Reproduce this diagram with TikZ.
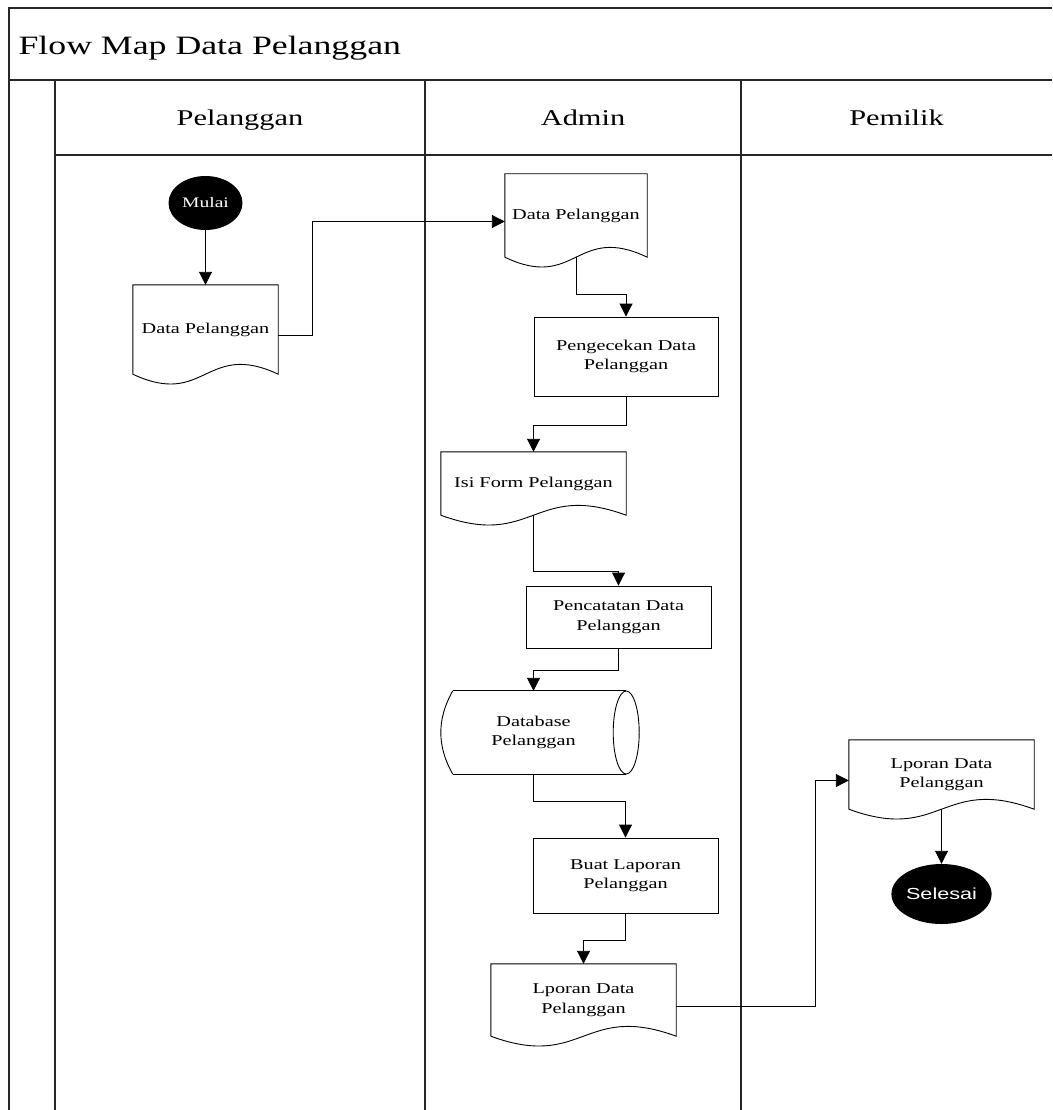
\documentclass[tikz,border=0pt]{standalone}
\usepackage{fontspec}
\setmainfont{Liberation Serif}[FakeStretch=1.35]
\newfontfamily\arialfont{Liberation Sans}[FakeStretch=1.35]
\usetikzlibrary{arrows.meta,shapes.geometric,calc}

% wave depth of the document symbols (control point offset)
\newcommand\wavek{34}

% document symbol: outline drawn around a rectangular node, wavy bottom edge
\newcommand\docshape[1]{%
  \draw[shapeline] (#1.south west) -- (#1.north west) -- (#1.north east) -- (#1.south east)
    .. controls ($(#1.south)+(0,-\wavek)$) and ($(#1.south)+(0,\wavek)$) .. (#1.south west);
  \coordinate (#1-b) at (#1.south);
  \coordinate (#1-l) at ($(#1.west)+(0,6)$);
  \coordinate (#1-r) at ($(#1.east)+(0,6)$);
}

% stored-data symbol: horizontal cylinder
\newcommand\dbshape[1]{%
  \draw[shapeline] ($(#1.north west)+(12,0)$) -- (#1.north east);
  \draw[shapeline] ($(#1.south west)+(12,0)$) -- (#1.south east);
  \draw[shapeline] (#1.east) ellipse [x radius=13, y radius=41.5];
  \draw[shapeline] ($(#1.north west)+(12,0)$)
    .. controls ($(#1.north west)+(-4,28)$) and ($(#1.south west)+(-4,-28)$) .. ($(#1.south west)+(12,0)$);
}

\tikzset{
  bodyfont/.style={font=\fontsize{15}{19.5}\selectfont},
  shapeline/.style={line width=0.9pt, draw=black},
  frameline/.style={line width=1.2pt, draw=black!85},
  docnode/.style={inner sep=0pt, align=center, bodyfont},
  procbox/.style={draw, shapeline, rectangle, inner sep=0pt, align=center, bodyfont},
  termnode/.style={ellipse, fill=black, text=white, inner sep=0pt},
  flowline/.style={line width=0.9pt, -{Triangle[length=13pt,width=13pt]}},
  lanehead/.style={anchor=base, font=\fontsize{22.5}{26}\selectfont},
}

\begin{document}
\begin{tikzpicture}[x=1pt, y=-1pt]
\useasboundingbox (0,0) rectangle (1052,1110);
\fill[white] (0,0) rectangle (1052,1110);

% swimlane frame
\draw[frameline] (1052,8) -- (9,8) -- (9,1110);
\draw[frameline] (9,80) -- (1052,80);
\draw[frameline] (55,80) -- (55,1110);
\draw[frameline] (55,155) -- (1052,155);
\draw[frameline] (425,80) -- (425,1110);
\draw[frameline] (741,80) -- (741,1110);

% title and lane headings
\node[anchor=base west, font=\fontsize{26.5}{30}\selectfont] (title) at (15,55) {Flow Map Data Pelanggan};
\node[lanehead] (hpel) at (240,126) {Pelanggan};
\node[lanehead] (hadm) at (583,126) {Admin};
\node[lanehead] (hpem) at (896.5,126) {Pemilik};

% Pelanggan lane
\node[termnode, minimum width=74pt, minimum height=54pt, font=\fontsize{14.5}{16}\selectfont] (mulai) at (205.5,203) {Mulai};
\node[docnode, minimum width=145pt, minimum height=89pt] (doc1) at (205.5,329.5) {Data Pelanggan};
\docshape{doc1}

% Admin lane
\node[docnode, minimum width=142pt, minimum height=83pt] (doc2) at (576,215.5) {Data Pelanggan};
\docshape{doc2}
\node[procbox, minimum width=184pt, minimum height=79pt] (box1) at (626,356.5) {Pengecekan Data\\Pelanggan};
\node[docnode, minimum width=185pt, minimum height=63pt] (doc3) at (533.5,483.5) {Isi Form Pelanggan};
\docshape{doc3}
\node[procbox, minimum width=185pt, minimum height=62pt] (box2) at (618.5,617) {Pencatatan Data\\Pelanggan};
\node[docnode, minimum width=185pt, minimum height=83pt] (db) at (533.5,732.5) {Database\\Pelanggan};
\dbshape{db}
\node[procbox, minimum width=185pt, minimum height=75pt] (box3) at (625.5,875.5) {Buat Laporan\\Pelanggan};
\node[docnode, minimum width=185pt, minimum height=72pt] (doc4) at (583.5,1000) {Lporan Data\\Pelanggan};
\docshape{doc4}

% Pemilik lane
\node[docnode, minimum width=185pt, minimum height=69pt] (doc5) at (941.5,774.5) {Lporan Data\\Pelanggan};
\docshape{doc5}
\node[termnode, minimum width=80pt, minimum height=60pt, font=\arialfont\fontsize{16}{18}\selectfont] (selesai) at (941.5,894) {Selesai};

% flow
\draw[flowline] (mulai) -- (doc1);
\draw[flowline] (doc1-r) -- ++(34,0) |- (doc2-l);
\draw[flowline] (doc2-b) -- ++(0,37) -| (box1.north);
\draw[flowline] (box1.south) -- ++(0,29) -| (doc3.north);
\draw[flowline] (doc3-b) -- ++(0,56) -| (box2.north);
\draw[flowline] (box2.south) -- ++(0,22) -| (db.north);
\draw[flowline] (db.south) -- ++(0,27) -| (box3.north);
\draw[flowline] (box3.south) -- ++(0,27) -| (doc4.north);
\draw[flowline] (doc4-r) -- ++(139,0) |- (doc5-l);
\draw[flowline] (doc5-b) -- (selesai);
\end{tikzpicture}
\end{document}
